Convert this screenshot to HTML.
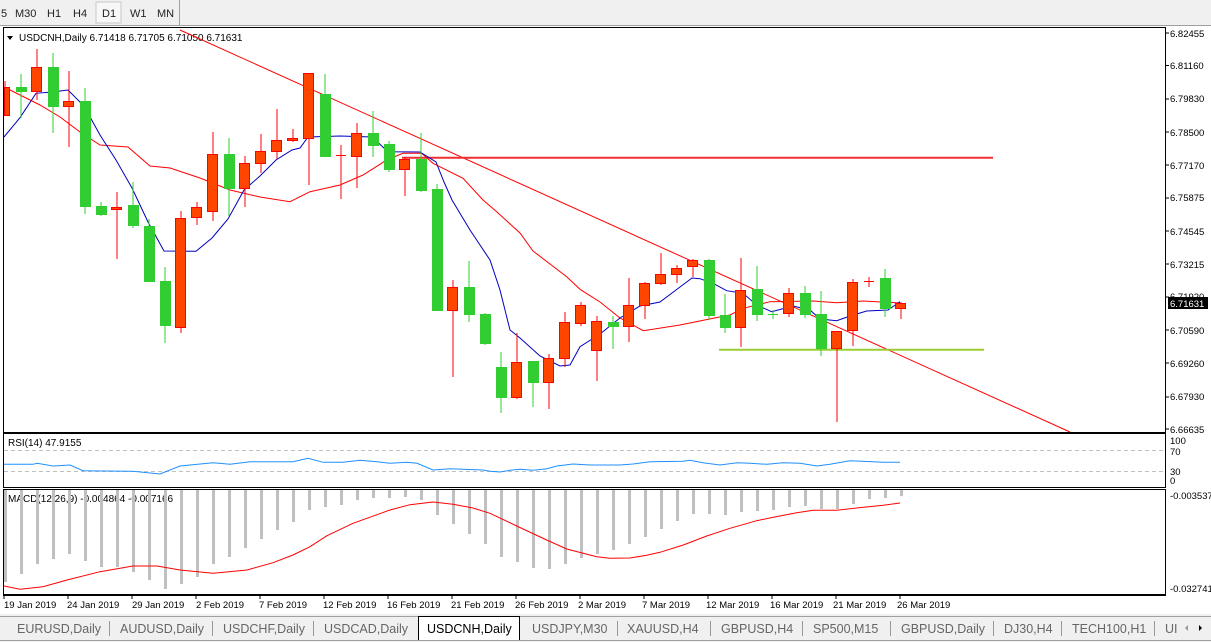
<!DOCTYPE html>
<html><head><meta charset="utf-8"><style>
html,body{margin:0;padding:0;width:1211px;height:642px;overflow:hidden;background:#f0f0f0;font-family:"Liberation Sans",sans-serif;}
svg{position:absolute;left:0;top:0}
</style></head><body>
<svg width="1211" height="642" xmlns="http://www.w3.org/2000/svg" font-family="Liberation Sans, sans-serif">
<!-- toolbar -->
<rect x="0" y="0" width="1211" height="25" fill="#f0f0f0"/>
<g font-size="11" fill="#222">
<text x="1" y="17">5</text><text x="15" y="17">M30</text><text x="47" y="17">H1</text><text x="73" y="17">H4</text>
<rect x="96" y="2" width="25" height="21" fill="#f7f7f7" stroke="#c8c8c8"/><text x="102" y="17">D1</text>
<text x="130" y="17">W1</text><text x="157" y="17">MN</text></g>
<line x1="179.5" y1="0" x2="179.5" y2="25" stroke="#a0a0a0"/>
<!-- chart area -->
<rect x="0" y="25" width="1211" height="589" fill="#fff"/>
<rect x="0" y="25" width="1211" height="1" fill="#a0a0a0"/>
<rect x="3.5" y="27.5" width="1162" height="405" fill="#fff" stroke="#000"/>
<rect x="3.5" y="433.5" width="1162" height="54" fill="#fff" stroke="#000"/>
<rect x="3.5" y="489.5" width="1162" height="105" fill="#fff" stroke="#000"/>
<line x1="3" y1="595.5" x2="1166" y2="595.5" stroke="#000"/>
<!-- price labels -->
<g font-size="9.5" fill="#000">
<text x="1170" y="37">6.82455</text><text x="1170" y="69">6.81160</text><text x="1170" y="102">6.79830</text>
<text x="1170" y="136">6.78500</text><text x="1170" y="169">6.77170</text><text x="1170" y="201">6.75875</text>
<text x="1170" y="235">6.74545</text><text x="1170" y="268">6.73215</text><text x="1170" y="300">6.71920</text>
<text x="1170" y="334">6.70590</text><text x="1170" y="367">6.69260</text><text x="1170" y="400">6.67930</text>
<text x="1170" y="433">6.66635</text>
<text x="1170" y="444">100</text><text x="1170" y="455">70</text><text x="1170" y="475">30</text><text x="1170" y="484">0</text>
<text x="1170" y="499">-0.003537</text><text x="1170" y="592">-0.032741</text></g>
<g stroke="#000"><line x1="1166" y1="33" x2="1169" y2="33"/><line x1="1166" y1="65.5" x2="1169" y2="65.5"/><line x1="1166" y1="99" x2="1169" y2="99"/><line x1="1166" y1="132" x2="1169" y2="132"/><line x1="1166" y1="165" x2="1169" y2="165"/><line x1="1166" y1="198" x2="1169" y2="198"/><line x1="1166" y1="231" x2="1169" y2="231"/><line x1="1166" y1="264" x2="1169" y2="264"/><line x1="1166" y1="297" x2="1169" y2="297"/><line x1="1166" y1="330" x2="1169" y2="330"/><line x1="1166" y1="363" x2="1169" y2="363"/><line x1="1166" y1="397" x2="1169" y2="397"/><line x1="1166" y1="429" x2="1169" y2="429"/></g>
<rect x="1168" y="297" width="40" height="12" fill="#000"/>
<text x="1170" y="307" font-size="9.5" fill="#fff">6.71631</text>
<!-- header -->
<polygon points="7,36 13,36 10,40" fill="#000"/>
<text x="19" y="41" font-size="10" fill="#000">USDCNH,Daily  6.71418 6.71705 6.71050 6.71631</text>
<!-- lines -->
<line x1="180" y1="30" x2="1070" y2="432" stroke="#f00" stroke-width="1"/>
<line x1="402" y1="157.7" x2="993" y2="157.7" stroke="#f03030" stroke-width="2"/>
<line x1="719" y1="349.7" x2="984" y2="349.7" stroke="#9acd32" stroke-width="2"/>
<!-- slow MA -->
<polyline fill="none" stroke="#f00" stroke-width="1" points="6,88 10,90 40,105 60,117 80,132 100,145 128,147 150,166 170,168 200,178 230,190 260,197 290,201.7 310,191.7 340,185 363,175 386.7,160 403,153.3 421.7,153.3 433,163.3 463,178.3 483,200 496.7,211.7 520,233 533,251 566.7,276.7 580,289.3 600,302 620,318 643.3,330.7 680,325 713.3,318.3 730,315 743.3,308.3 770,301.7 813.3,301 836.7,302.7 863.3,301 900,303"/>
<!-- fast MA -->
<polyline fill="none" stroke="#0000c0" stroke-width="1" points="4,137 20,117.7 36,93.3 52,92 68,90 84,106 100,135 116,160 132,188 148,222 164,251 196,251.3 212,238 228,219 244,190 260,176 276,160 292,150 300,148 308,137 340,136 372,137 388,151.7 420,152 436,162 444,182 452,200 470,230 490,260 500,290 510,330 520,338 540,356 560,366 570,365 580,346.7 600,334 620,318 640,306 660,302 676,290 692,278 700,278.7 713,283.3 726.7,290.7 743,293.3 756.7,305 771.7,311.7 793,306 810,310 820,319 836.7,320.7 850,316 866.7,311 888,310 900,301.7"/>
<!-- candles -->
<g stroke-width="1">
<g stroke="#f00" fill="#ff4500">
<line x1="5" y1="81" x2="5" y2="116"/><rect x="4.5" y="87.5" width="5" height="28"/>
<line x1="37" y1="49" x2="37" y2="100"/><rect x="31.5" y="67.5" width="10" height="24"/>
<line x1="69" y1="71" x2="69" y2="147"/><rect x="63.5" y="101.5" width="10" height="5"/>
<line x1="117" y1="192" x2="117" y2="259"/><rect x="111.5" y="207.5" width="10" height="2"/>
<line x1="181" y1="211" x2="181" y2="333"/><rect x="175.5" y="218.5" width="10" height="109"/>
<line x1="197" y1="202" x2="197" y2="225"/><rect x="191.5" y="207.5" width="10" height="10"/>
<line x1="213" y1="132" x2="213" y2="221"/><rect x="207.5" y="154.5" width="10" height="57"/>
<line x1="245" y1="156" x2="245" y2="207"/><rect x="239.5" y="163.5" width="10" height="25"/>
<line x1="261" y1="134" x2="261" y2="173"/><rect x="255.5" y="151.5" width="10" height="12"/>
<line x1="277" y1="109" x2="277" y2="159"/><rect x="271.5" y="140.5" width="10" height="11"/>
<line x1="293" y1="129" x2="293" y2="142"/><rect x="287.5" y="138.5" width="10" height="2"/>
<line x1="309" y1="73" x2="309" y2="185"/><rect x="303.5" y="73.5" width="10" height="65"/>
<line x1="341" y1="145" x2="341" y2="199"/><line x1="336" y1="155.5" x2="346" y2="155.5"/>
<line x1="357" y1="123" x2="357" y2="188"/><rect x="351.5" y="133.5" width="10" height="23"/>
<line x1="405" y1="157" x2="405" y2="196"/><rect x="399.5" y="159.5" width="10" height="10"/>
<line x1="453" y1="280" x2="453" y2="377"/><rect x="447.5" y="287.5" width="10" height="23"/>
<line x1="517" y1="333" x2="517" y2="399"/><rect x="511.5" y="362.5" width="10" height="35"/>
<line x1="549" y1="354" x2="549" y2="409"/><rect x="543.5" y="358.5" width="10" height="24"/>
<line x1="565" y1="312" x2="565" y2="367"/><rect x="559.5" y="322.5" width="10" height="36"/>
<line x1="581" y1="302" x2="581" y2="326"/><rect x="575.5" y="305.5" width="10" height="18"/>
<line x1="597" y1="316" x2="597" y2="381"/><rect x="591.5" y="321.5" width="10" height="29"/>
<line x1="629" y1="278" x2="629" y2="342"/><rect x="623.5" y="305.5" width="10" height="21"/>
<line x1="645" y1="282" x2="645" y2="319"/><rect x="639.5" y="283.5" width="10" height="22"/>
<line x1="661" y1="253" x2="661" y2="285"/><rect x="655.5" y="274.5" width="10" height="9"/>
<line x1="677" y1="265" x2="677" y2="283"/><rect x="671.5" y="268.5" width="10" height="6"/>
<line x1="693" y1="259" x2="693" y2="277"/><rect x="687.5" y="260.5" width="10" height="6"/>
<line x1="741" y1="258" x2="741" y2="347"/><rect x="735.5" y="290.5" width="10" height="37"/>
<line x1="789" y1="288" x2="789" y2="317"/><rect x="783.5" y="293.5" width="10" height="20"/>
<line x1="837" y1="331" x2="837" y2="422"/><rect x="831.5" y="331.5" width="10" height="17"/>
<line x1="853" y1="279" x2="853" y2="346"/><rect x="847.5" y="282.5" width="10" height="48"/>
<line x1="869" y1="277" x2="869" y2="287"/><line x1="864" y1="281.5" x2="874" y2="281.5"/>
<line x1="901" y1="302" x2="901" y2="319"/><rect x="895.5" y="303.5" width="10" height="5"/>
</g>
<g fill="#32cd32">
<line x1="21" y1="74" x2="21" y2="118" stroke="#32cd32"/><rect x="16" y="87" width="11" height="5"/>
<line x1="53" y1="53" x2="53" y2="133" stroke="#32cd32"/><rect x="48" y="67" width="11" height="40"/>
<line x1="85" y1="88" x2="85" y2="214" stroke="#32cd32"/><rect x="80" y="101" width="11" height="106"/>
<line x1="101" y1="202" x2="101" y2="216" stroke="#32cd32"/><rect x="96" y="206" width="11" height="9"/>
<line x1="133" y1="182" x2="133" y2="228" stroke="#32cd32"/><rect x="128" y="205" width="11" height="21"/>
<line x1="149" y1="219" x2="149" y2="282" stroke="#32cd32"/><rect x="144" y="226" width="11" height="56"/>
<line x1="165" y1="267" x2="165" y2="343" stroke="#32cd32"/><rect x="160" y="281" width="11" height="45"/>
<line x1="229" y1="138" x2="229" y2="216" stroke="#32cd32"/><rect x="224" y="154" width="11" height="35"/>
<line x1="325" y1="74" x2="325" y2="157" stroke="#32cd32"/><rect x="320" y="94" width="11" height="63"/>
<line x1="373" y1="111" x2="373" y2="157" stroke="#32cd32"/><rect x="368" y="133" width="11" height="13"/>
<line x1="389" y1="141" x2="389" y2="172" stroke="#32cd32"/><rect x="384" y="144" width="11" height="26"/>
<line x1="421" y1="133" x2="421" y2="192" stroke="#32cd32"/><rect x="416" y="159" width="11" height="32"/>
<line x1="437" y1="184" x2="437" y2="311" stroke="#32cd32"/><rect x="432" y="189" width="11" height="122"/>
<line x1="469" y1="261" x2="469" y2="322" stroke="#32cd32"/><rect x="464" y="287" width="11" height="28"/>
<line x1="485" y1="313" x2="485" y2="345" stroke="#32cd32"/><rect x="480" y="314" width="11" height="30"/>
<line x1="501" y1="352" x2="501" y2="413" stroke="#32cd32"/><rect x="496" y="367" width="11" height="31"/>
<line x1="533" y1="361" x2="533" y2="407" stroke="#32cd32"/><rect x="528" y="361" width="11" height="22"/>
<line x1="613" y1="316" x2="613" y2="349" stroke="#32cd32"/><rect x="608" y="322" width="11" height="5"/>
<line x1="709" y1="259" x2="709" y2="320" stroke="#32cd32"/><rect x="704" y="260" width="11" height="56"/>
<line x1="725" y1="294" x2="725" y2="333" stroke="#32cd32"/><rect x="720" y="315" width="11" height="13"/>
<line x1="757" y1="266" x2="757" y2="321" stroke="#32cd32"/><rect x="752" y="289" width="11" height="26"/>
<line x1="773" y1="310" x2="773" y2="319" stroke="#32cd32"/><line x1="768" y1="314.5" x2="778" y2="314.5" stroke="#32cd32"/>
<line x1="805" y1="286" x2="805" y2="318" stroke="#32cd32"/><rect x="800" y="293" width="11" height="22"/>
<line x1="821" y1="291" x2="821" y2="356" stroke="#32cd32"/><rect x="816" y="314" width="11" height="35"/>
<line x1="885" y1="269" x2="885" y2="317" stroke="#32cd32"/><rect x="880" y="278" width="11" height="31"/>
</g></g>
<!-- RSI -->
<g stroke="#c0c0c0" stroke-dasharray="4,3"><line x1="4" y1="450.5" x2="1165" y2="450.5"/><line x1="4" y1="471.5" x2="1165" y2="471.5"/></g>
<text x="8" y="446" font-size="10" fill="#000">RSI(14) 47.9155</text>
<polyline fill="none" stroke="#1e90ff" points="4,464.3 33,464.3 37,463.3 53,466 70,465 83,470.7 133,471.3 160,474 180,466 213,462.7 230,464.3 250,461.7 293,461.7 308,458.3 323,462.3 343,462.3 360,460.3 377,461.7 390,463.3 407,462.3 417,463.3 433,470 450,468.7 483,470 490,471.3 500,472 510,470.3 520,469.3 533,470.3 547,468.7 557,466 573,464 590,465 620,465 633,464 650,461.7 683,461.3 690,460.3 703,462.7 720,465 737,462.7 750,463.3 767,464.3 783,462.7 800,463.3 817,466 830,464.3 850,460.7 873,461.7 883,462.3 900,462.3"/>
<!-- MACD -->
<text x="8" y="502" font-size="10" fill="#000">MACD(12,26,9) -0.004864 -0.007166</text>
<g fill="#c0c0c0">
<rect x="4" y="490" width="3" height="92"/><rect x="20" y="490" width="3" height="84"/><rect x="36" y="490" width="3" height="74"/><rect x="52" y="490" width="3" height="69"/><rect x="68" y="490" width="3" height="64"/><rect x="84" y="490" width="3" height="71"/><rect x="100" y="490" width="3" height="77"/><rect x="116" y="490" width="3" height="77"/><rect x="132" y="490" width="3" height="82"/><rect x="148" y="490" width="3" height="90"/><rect x="164" y="490" width="3" height="99"/><rect x="180" y="490" width="3" height="94"/><rect x="196" y="490" width="3" height="87"/><rect x="212" y="490" width="3" height="74"/><rect x="228" y="490" width="3" height="67"/><rect x="244" y="490" width="3" height="58"/><rect x="260" y="490" width="3" height="49"/><rect x="276" y="490" width="3" height="40"/><rect x="292" y="490" width="3" height="32"/><rect x="308" y="490" width="3" height="20"/><rect x="324" y="490" width="3" height="17"/><rect x="340" y="490" width="3" height="15"/><rect x="356" y="490" width="3" height="10"/><rect x="372" y="490" width="3" height="8"/><rect x="388" y="490" width="3" height="8"/><rect x="404" y="490" width="3" height="7"/><rect x="420" y="490" width="3" height="10"/><rect x="436" y="490" width="3" height="25"/><rect x="452" y="490" width="3" height="34"/><rect x="468" y="490" width="3" height="44"/><rect x="484" y="490" width="3" height="54"/><rect x="500" y="490" width="3" height="67"/><rect x="516" y="490" width="3" height="72"/><rect x="532" y="490" width="3" height="78"/><rect x="548" y="490" width="3" height="79"/><rect x="564" y="490" width="3" height="74"/><rect x="580" y="490" width="3" height="68"/><rect x="596" y="490" width="3" height="64"/><rect x="612" y="490" width="3" height="60"/><rect x="628" y="490" width="3" height="54"/><rect x="644" y="490" width="3" height="47"/><rect x="660" y="490" width="3" height="39"/><rect x="676" y="490" width="3" height="31"/><rect x="692" y="490" width="3" height="24"/><rect x="708" y="490" width="3" height="24"/><rect x="724" y="490" width="3" height="25"/><rect x="740" y="490" width="3" height="22"/><rect x="756" y="490" width="3" height="21"/><rect x="772" y="490" width="3" height="20"/><rect x="788" y="490" width="3" height="17"/><rect x="804" y="490" width="3" height="16"/><rect x="820" y="490" width="3" height="19"/><rect x="836" y="490" width="3" height="19"/><rect x="852" y="490" width="3" height="14"/><rect x="868" y="490" width="3" height="9"/><rect x="884" y="490" width="3" height="8"/><rect x="900" y="490" width="3" height="6"/>
</g>
<polyline fill="none" stroke="#f00" points="4,586 20,589.3 43,586.7 67,580 100,571.7 133,566 157,566 180,570 213,573.3 247,570 273,562.7 293,555 310,546.7 327,535.7 353,523.3 390,510 410,504.7 433,502 453,504.3 473,508 490,513.3 516.7,526 546.7,540 566.7,549 596.7,556.7 610,558.3 630,558 646.7,555.3 660,552.3 683.3,545 706.7,536 730,528.3 756.7,520.7 773.3,517.3 796.7,512.7 813.3,510.3 836.7,510.3 856.7,508 883.3,505.3 900,503"/>
<!-- dates -->
<g stroke="#000"><line x1="4" y1="595" x2="4" y2="599"/><line x1="68" y1="595" x2="68" y2="599"/><line x1="132" y1="595" x2="132" y2="599"/><line x1="196" y1="595" x2="196" y2="599"/><line x1="260" y1="595" x2="260" y2="599"/><line x1="324" y1="595" x2="324" y2="599"/><line x1="388" y1="595" x2="388" y2="599"/><line x1="452" y1="595" x2="452" y2="599"/><line x1="516" y1="595" x2="516" y2="599"/><line x1="580" y1="595" x2="580" y2="599"/><line x1="644" y1="595" x2="644" y2="599"/><line x1="708" y1="595" x2="708" y2="599"/><line x1="772" y1="595" x2="772" y2="599"/><line x1="836" y1="595" x2="836" y2="599"/><line x1="900" y1="595" x2="900" y2="599"/></g>
<g font-size="9.5" fill="#000">
<text x="4" y="608">19 Jan 2019</text><text x="67" y="608">24 Jan 2019</text><text x="132" y="608">29 Jan 2019</text><text x="196" y="608">2 Feb 2019</text><text x="259" y="608">7 Feb 2019</text><text x="323" y="608">12 Feb 2019</text><text x="387" y="608">16 Feb 2019</text><text x="451" y="608">21 Feb 2019</text><text x="515" y="608">26 Feb 2019</text><text x="578" y="608">2 Mar 2019</text><text x="642" y="608">7 Mar 2019</text><text x="706" y="608">12 Mar 2019</text><text x="770" y="608">16 Mar 2019</text><text x="833" y="608">21 Mar 2019</text><text x="897" y="608">26 Mar 2019</text></g>
<!-- tabs -->
<rect x="0" y="614" width="1211" height="28" fill="#f0f0f0"/>
<line x1="0" y1="616.5" x2="1211" y2="616.5" stroke="#a0a0a0"/>
<rect x="418.5" y="616.5" width="101" height="24" fill="#fff" stroke="#000"/>
<line x1="0" y1="640.5" x2="1211" y2="640.5" stroke="#a0a0a0"/>
<g font-size="12.5" fill="#666">
<text x="17" y="633">EURUSD,Daily</text><text x="120" y="633">AUDUSD,Daily</text><text x="223" y="633">USDCHF,Daily</text><text x="324" y="633">USDCAD,Daily</text>
<text x="427" y="633" fill="#000">USDCNH,Daily</text>
<text x="532" y="633">USDJPY,M30</text><text x="627" y="633">XAUUSD,H4</text><text x="721" y="633">GBPUSD,H4</text><text x="813" y="633">SP500,M15</text><text x="901" y="633">GBPUSD,Daily</text><text x="1004" y="633">DJ30,H4</text><text x="1072" y="633">TECH100,H1</text><text x="1165" y="633">UI</text></g>
<g stroke="#999"><line x1="109.5" y1="621" x2="109.5" y2="636"/><line x1="212.5" y1="621" x2="212.5" y2="636"/><line x1="313.5" y1="621" x2="313.5" y2="636"/><line x1="617.5" y1="621" x2="617.5" y2="636"/><line x1="710.5" y1="621" x2="710.5" y2="636"/><line x1="802.5" y1="621" x2="802.5" y2="636"/><line x1="890.5" y1="621" x2="890.5" y2="636"/><line x1="993.5" y1="621" x2="993.5" y2="636"/><line x1="1061.5" y1="621" x2="1061.5" y2="636"/><line x1="1154.5" y1="621" x2="1154.5" y2="636"/></g>
<polygon points="1188,625 1185,628 1188,631" fill="#999"/><polygon points="1199,625 1202,628 1199,631" fill="#000"/>
</svg>
</body></html>
